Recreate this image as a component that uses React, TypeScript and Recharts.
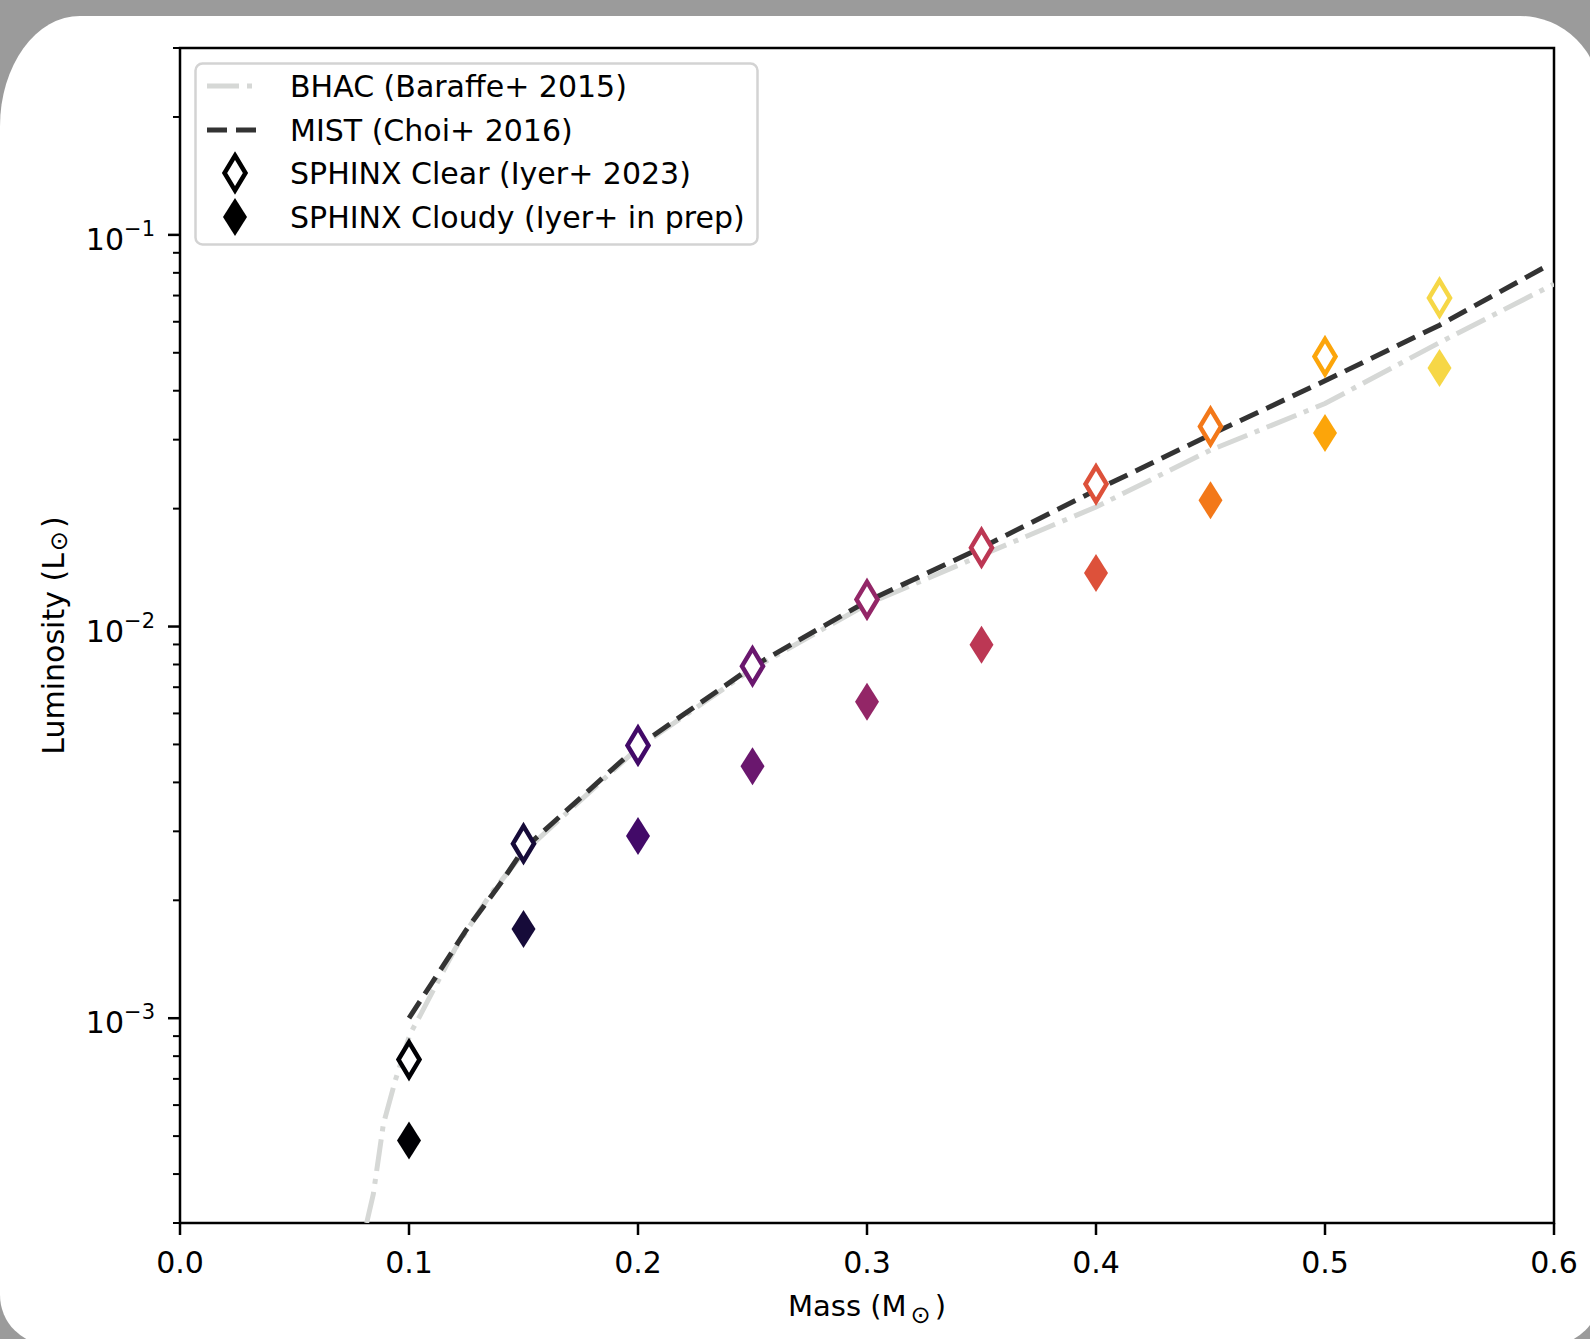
import React from "react";
import {
  ComposedChart,
  Line,
  Scatter,
  XAxis,
  YAxis,
  Legend,
  ReferenceArea,
  Label,
} from "recharts";

const FONT = "'DejaVu Sans', sans-serif";

// SPHINX grid masses and luminosities (L_sun)
const sphinxMass = [0.1, 0.15, 0.2, 0.25, 0.3, 0.35, 0.4, 0.45, 0.5, 0.55];
const clearLum = [7.84e-4, 2.79e-3, 4.97e-3, 7.92e-3, 0.01173, 0.0159, 0.0231, 0.0324, 0.0489, 0.069];
const cloudyLum = [4.87e-4, 1.69e-3, 2.92e-3, 4.4e-3, 6.43e-3, 8.98e-3, 0.0137, 0.021, 0.0312, 0.0457];
const pointColors = [
  "#000004", "#160b39", "#420a68", "#6a176e", "#932667",
  "#bc3754", "#dd513a", "#f37819", "#fca50a", "#f6d746",
];

// MIST isochrone
const mistMass = [0.1, 0.11, 0.125, 0.14, 0.15, 0.2, 0.25, 0.3, 0.35, 0.4, 0.45, 0.5, 0.55, 0.597];
const mistLum = [1.0e-3, 1.23e-3, 1.68e-3, 2.21e-3, 2.7e-3, 4.95e-3, 7.9e-3, 0.0116, 0.0159, 0.0223, 0.0309, 0.0424, 0.0588, 0.0834];

// BHAC isochrone
const bhacMass = [0.0815, 0.0844, 0.0888, 0.0939, 0.1004, 0.105, 0.12, 0.135, 0.15, 0.2, 0.25, 0.3, 0.35, 0.4, 0.45, 0.5, 0.55, 0.6];
const bhacLum = [3.0e-4, 3.55e-4, 5.36e-4, 6.9e-4, 9.1e-4, 1.02e-3, 1.5e-3, 2.05e-3, 2.65e-3, 4.9e-3, 7.8e-3, 0.0114, 0.0152, 0.0202, 0.0282, 0.0371, 0.0531, 0.0749];

const xTicks = [0, 0.1, 0.2, 0.3, 0.4, 0.5, 0.6];
const yTicks = [
  3e-4, 4e-4, 5e-4, 6e-4, 7e-4, 8e-4, 9e-4,
  1e-3, 2e-3, 3e-3, 4e-3, 5e-3, 6e-3, 7e-3, 8e-3, 9e-3,
  1e-2, 2e-2, 3e-2, 4e-2, 5e-2, 6e-2, 7e-2, 8e-2, 9e-2,
  1e-1, 2e-1, 3e-1,
];

const legendNames = [
  "BHAC (Baraffe+ 2015)",
  "MIST (Choi+ 2016)",
  "SPHINX Clear (Iyer+ 2023)",
  "SPHINX Cloudy (Iyer+ in prep)",
];

const clearData = sphinxMass.map((m, i) => ({ mass: m, lum: clearLum[i], color: pointColors[i] }));
const cloudyData = sphinxMass.map((m, i) => ({ mass: m, lum: cloudyLum[i], color: pointColors[i] }));
const mistData = mistMass.map((m, i) => ({ mass: m, lum: mistLum[i] }));
const bhacData = bhacMass.map((m, i) => ({ mass: m, lum: bhacLum[i] }));

const MIST_DASH = "20 9";
const BHAC_DASH = "32 8 5 8";

function diamondPath(cx: number, cy: number, w: number, h: number) {
  return `M${cx},${cy - h} L${cx + w},${cy} L${cx},${cy + h} L${cx - w},${cy} Z`;
}

const OpenDiamond = (p: any) => (
  <path d={diamondPath(p.cx, p.cy, 10.5, 17.5)} fill="#fff" stroke={p.payload.color} strokeWidth={4.5} />
);

const FilledDiamond = (p: any) => (
  <path d={diamondPath(p.cx, p.cy, 12, 19)} fill={p.payload.color} stroke="none" />
);

const XTick = (p: any) => (
  <g>
    <line x1={p.x} x2={p.x} y1={p.y} y2={p.y + 12} stroke="#000" strokeWidth={2.5} />
    <text x={p.x} y={p.y + 50} textAnchor="middle" fontSize={30} fontFamily={FONT} fill="#000">
      {Number(p.payload.value).toFixed(1)}
    </text>
  </g>
);

const YTick = (p: any) => {
  const v = Number(p.payload.value);
  const lg = Math.log10(v);
  const major = Math.abs(lg - Math.round(lg)) < 1e-6;
  if (!major) {
    return <line x1={p.x - 7} x2={p.x} y1={p.y} y2={p.y} stroke="#000" strokeWidth={2} />;
  }
  return (
    <g>
      <line x1={p.x - 12} x2={p.x} y1={p.y} y2={p.y} stroke="#000" strokeWidth={2.5} />
      <text x={p.x - 25} y={p.y + 15} textAnchor="end" fontSize={30} fontFamily={FONT} fill="#000">
        <tspan>10</tspan>
        <tspan dy={-14} fontSize={21}>{"\u2212" + Math.abs(Math.round(lg))}</tspan>
      </text>
    </g>
  );
};

const XLabel = (p: any) => {
  const vb = p.viewBox;
  return (
    <text x={vb.x + vb.width / 2} y={vb.y + 93} textAnchor="middle" fontSize={29} fontFamily={FONT} fill="#000">
      <tspan>Mass (M</tspan>
      <tspan dx={4} dy={7} fontSize={24}>{"\u2299"}</tspan>
      <tspan dx={4} dy={-7}>)</tspan>
    </text>
  );
};

const YLabel = (p: any) => {
  const vb = p.viewBox;
  const cx = 53;
  const cy = vb.y + vb.height / 2;
  return (
    <text
      x={cx}
      y={cy}
      transform={`rotate(-90 ${cx} ${cy})`}
      textAnchor="middle"
      dominantBaseline="central"
      fontSize={30}
      fontFamily={FONT}
      fill="#000"
    >
      <tspan>Luminosity (L</tspan>
      <tspan dx={2} dy={6} fontSize={24}>{"\u2299"}</tspan>
      <tspan dx={3} dy={-6}>)</tspan>
    </text>
  );
};

const LegendBox = () => {
  const rows = [24, 68, 111, 155];
  return (
    <svg width={566} height={185} style={{ display: "block" }}>
      <rect x={1.5} y={1.5} width={562} height={181} rx={7} fill="#fff" fillOpacity={0.85} stroke="#d3d3d3" strokeWidth={2.5} />
      <line x1={13} x2={64} y1={rows[0]} y2={rows[0]} stroke="#d6d8d6" strokeWidth={5} strokeDasharray={BHAC_DASH} />
      <line x1={13} x2={64} y1={rows[1]} y2={rows[1]} stroke="#333" strokeWidth={5} strokeDasharray={MIST_DASH} />
      <path d={diamondPath(41, rows[2], 10.5, 17.5)} fill="#fff" stroke="#000" strokeWidth={4.5} />
      <path d={diamondPath(41, rows[3], 12, 19)} fill="#000" />
      {legendNames.map((n, i) => (
        <text key={n} x={96} y={rows[i] + 11} fontSize={30} fontFamily={FONT} fill="#000">
          {n}
        </text>
      ))}
    </svg>
  );
};

export default function App() {
  return (
    <div style={{ position: "absolute", left: 0, top: 0, width: 1590, height: 1339, background: "#9b9b9b", overflow: "hidden" }}>
      <div
        style={{
          position: "absolute",
          left: 0,
          top: 16,
          width: 1600,
          height: 1329,
          background: "#fff",
          borderTopLeftRadius: "80px 110px",
          borderTopRightRadius: 80,
          borderBottomLeftRadius: 50,
          borderBottomRightRadius: 50,
        }}
      />
      <div style={{ position: "absolute", left: 0, top: 0 }}>
        <ComposedChart width={1590} height={1339} margin={{ top: 48, right: 36, bottom: 56, left: 80 }}>
          <XAxis
            type="number"
            dataKey="mass"
            domain={[0, 0.6]}
            allowDataOverflow
            ticks={xTicks}
            interval={0}
            tickSize={0}
            tickMargin={0}
            tick={<XTick />}
            axisLine={false}
            height={60}
          >
            <Label content={<XLabel />} />
          </XAxis>
          <YAxis
            type="number"
            dataKey="lum"
            scale="log"
            domain={[3e-4, 0.3]}
            allowDataOverflow
            ticks={yTicks}
            interval={0}
            tickSize={0}
            tickMargin={0}
            tick={<YTick />}
            axisLine={false}
            width={100}
          >
            <Label content={<YLabel />} />
          </YAxis>
          <Line
            data={bhacData}
            dataKey="lum"
            type="linear"
            stroke="#d6d8d6"
            strokeWidth={5}
            strokeDasharray={BHAC_DASH}
            dot={false}
            activeDot={false}
            isAnimationActive={false}
          />
          <Line
            data={mistData}
            dataKey="lum"
            type="linear"
            stroke="#333"
            strokeWidth={5}
            strokeDasharray={MIST_DASH}
            dot={false}
            activeDot={false}
            isAnimationActive={false}
          />
          <Scatter data={clearData} dataKey="lum" shape={<OpenDiamond />} isAnimationActive={false} />
          <Scatter data={cloudyData} dataKey="lum" shape={<FilledDiamond />} isAnimationActive={false} />
          <ReferenceArea x1={0} x2={0.6} y1={3e-4} y2={0.3} fill="none" stroke="#000" strokeWidth={2.5} />
          <Legend
            layout="vertical"
            align="center"
            verticalAlign="middle"
            content={<LegendBox />}
            wrapperStyle={{ left: 194, top: 62, width: 566, height: 185 }}
          />
        </ComposedChart>
      </div>
    </div>
  );
}
